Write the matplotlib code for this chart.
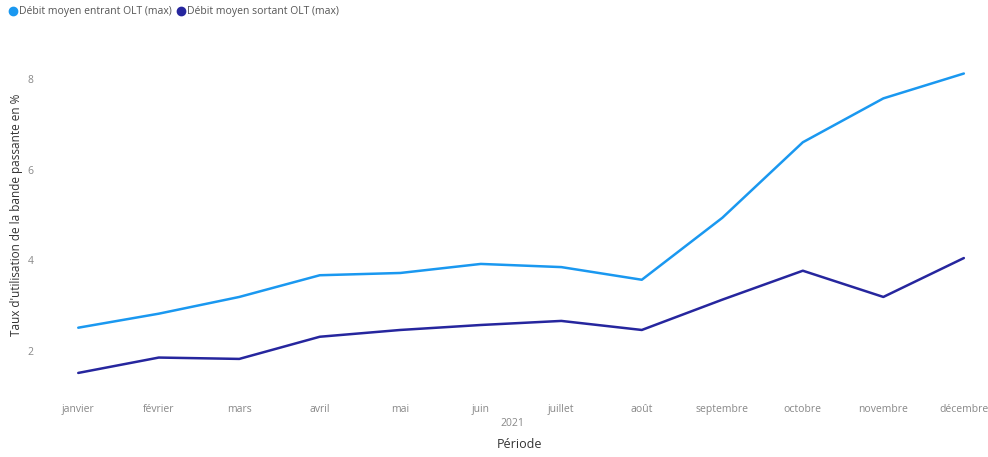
import matplotlib
matplotlib.use("Agg")
import matplotlib.pyplot as plt
from matplotlib.lines import Line2D

months = ["janvier", "février", "mars", "avril", "mai", "juin", "juillet", "août",
          "septembre", "octobre", "novembre", "décembre"]
entrant = [2.51, 2.82, 3.19, 3.67, 3.72, 3.92, 3.85, 3.57, 4.94, 6.61, 7.58, 8.13]
sortant = [1.51, 1.85, 1.82, 2.31, 2.46, 2.57, 2.66, 2.46, 3.13, 3.77, 3.19, 4.05]
yticks = [2, 4, 6, 8]

c_in = "#1A98F0"
c_out = "#26269E"

plt.rcParams['font.family'] = ['Open Sans', 'DejaVu Sans']

fig = plt.figure(figsize=(9.88, 4.57), dpi=100)
W, H = 988, 457
ax = fig.add_axes([38 / W, 1 - 396 / H, (988 - 38) / W, (396 - 50) / H])

x = list(range(len(months)))
ax.plot(x, entrant, color=c_in, lw=1.8, solid_capstyle='round', solid_joinstyle='round')
ax.plot(x, sortant, color=c_out, lw=1.8, solid_capstyle='round', solid_joinstyle='round')

ax.set_xlim(-0.5, 11.3)
ax.set_ylim(1.0, 8.65)
ax.set_xticks(x)
ax.set_xticklabels(months, fontsize=7.5, color="#888888")
ax.set_yticks(yticks)
ax.set_yticklabels([str(v) for v in yticks], fontsize=7.5, color="#888888")
ax.tick_params(axis='both', length=0)
ax.tick_params(axis='x', pad=6)
ax.tick_params(axis='y', pad=3)
for s in ax.spines.values():
    s.set_visible(False)

fig.text(17 / W, 1 - 215 / H, "Taux d'utilisation de la bande passante en %", rotation=90,
         ha='center', va='center', fontsize=8.5, color="#333333")
fig.text(512 / W, 1 - 423 / H, "2021", ha='center', va='center', fontsize=7.5, color="#888888")
fig.text(520 / W, 1 - 445 / H, "Période", ha='center', va='center', fontsize=9, color="#333333")

handles = [Line2D([], [], marker='o', ls='', color=c_in, markersize=6),
           Line2D([], [], marker='o', ls='', color=c_out, markersize=6)]
fig.legend(handles, ["Débit moyen entrant OLT (max)", "Débit moyen sortant OLT (max)"],
           loc='upper left', bbox_to_anchor=(0.0, 1.0), ncol=2, frameon=False,
           fontsize=7.5, handletextpad=0.0, columnspacing=0.3, borderaxespad=0.2,
           labelcolor="#555555", handlelength=1.2)

fig.savefig("out.png", dpi=100, facecolor="white")
